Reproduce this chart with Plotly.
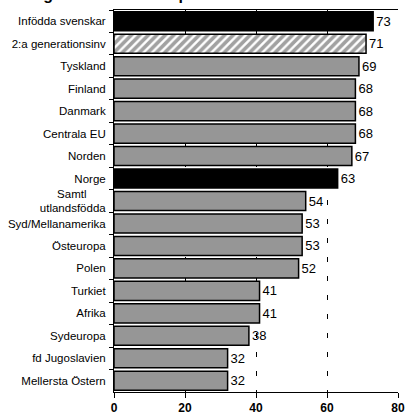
import plotly.graph_objects as go

# Data
categories = ["Infödda svenskar", "2:a generationsinv", "Tyskland", "Finland", "Danmark",
              "Centrala EU", "Norden", "Norge", "Samtl" + "\u00a0" * 6 + "<br>utlandsfödda",
              "Syd/Mellanamerika", "Östeuropa", "Polen", "Turkiet", "Afrika",
              "Sydeuropa", "fd Jugoslavien", "Mellersta Östern"]
values = [73, 71, 69, 68, 68, 68, 67, 63, 54, 53, 53, 52, 41, 41, 38, 32, 32]
tick_vals = [0, 20, 40, 60, 80]
title_text = "Högskoleutbildade i procent"

# styling per bar: black for Sweden/Norway, hatched for second generation, grey otherwise
colors = ["#000000", "#ffffff"] + ["#969696"] * 5 + ["#000000"] + ["#969696"] * 9
patterns = ["", "/"] + [""] * 15

fig = go.Figure()
fig.add_trace(go.Bar(
    x=values,
    y=categories,
    orientation="h",
    marker=dict(
        color=colors,
        line=dict(color="black", width=1.5),
        pattern=dict(shape=patterns, fgcolor="black", bgcolor="white", size=6, solidity=0.6),
    ),
    text=[str(v) for v in values],
    textposition="outside",
    textfont=dict(family="Arial, Liberation Sans", size=13, color="black"),
    cliponaxis=False,
    width=0.85,
    showlegend=False,
))

fig.update_layout(
    width=406,
    height=418,
    margin=dict(l=114, r=8, t=10, b=26),
    paper_bgcolor="white",
    plot_bgcolor="white",
    font=dict(family="Arial, Liberation Sans", color="black"),
)

# the title is cut off at the top edge in the original, only its lower part shows
fig.add_annotation(
    text="<b>" + title_text + "</b>",
    xref="paper", yref="paper", x=-0.33, y=1.013,
    xanchor="left", yanchor="bottom", showarrow=False,
    font=dict(size=16, color="black"),
)

fig.update_xaxes(
    range=[0, 80],
    tickvals=tick_vals,
    ticktext=["<b>%d</b>" % t for t in tick_vals],
    tickfont=dict(size=12, color="black"),
    ticks="outside", ticklen=5, tickcolor="black",
    showline=True, linecolor="black", linewidth=1, mirror=True,
    showgrid=True, gridcolor="black", gridwidth=1, griddash="5px,14px",
    zeroline=False, automargin=False,
)
fig.update_yaxes(
    autorange="reversed",
    tickfont=dict(size=11.5, color="black"),
    ticks="outside", ticklen=4, tickcolor="black", tickson="boundaries",
    ticklabelstandoff=5,
    showline=True, linecolor="black", linewidth=1,
    showgrid=False, automargin=False,
)

# page has a default 8px body margin, drop it so the figure sits at the window corner
fig.write_html("out.html", config={"displayModeBar": False},
               post_script="document.body.style.margin='0';")
